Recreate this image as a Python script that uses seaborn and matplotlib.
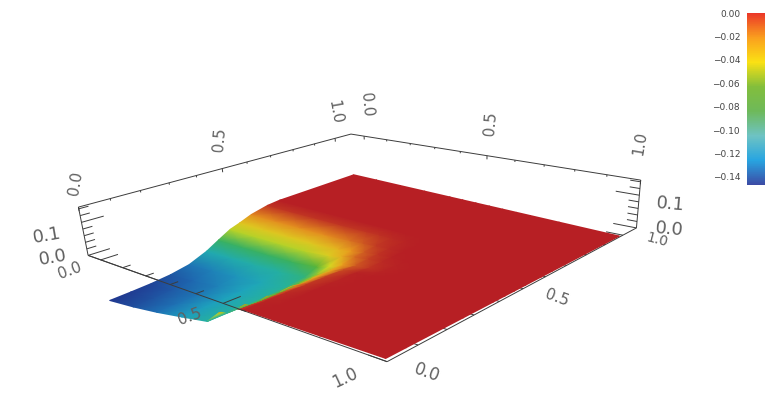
import numpy as np
import matplotlib
matplotlib.use('Agg')
import matplotlib.pyplot as plt
import seaborn as sns

# surface, rows follow y_grid, columns follow x_grid
x_grid = [0, .1, .2, .3, .4, .45, .5, .55, .6, .65, .7, .8, 1]
y_grid = [0, .07, .14, .21, .28, .35, .40, .45, .49, .54, .61, .66, 1]
z_table = [
    [-.147, -.138, -.125, -.108, -.090, -.045, -.010, 0, 0, 0, 0, 0, 0],
    [-.145, -.136, -.124, -.107, -.090, -.055, -.014, -.001, 0, 0, 0, 0, 0],
    [-.142, -.133, -.122, -.106, -.090, -.060, -.018, -.002, 0, 0, 0, 0, 0],
    [-.136, -.128, -.118, -.104, -.088, -.060, -.022, -.004, 0, 0, 0, 0, 0],
    [-.124, -.118, -.111, -.101, -.085, -.058, -.025, -.005, -.001, 0, 0, 0, 0],
    [-.098, -.096, -.093, -.090, -.078, -.052, -.025, -.007, -.001, 0, 0, 0, 0],
    [-.072, -.072, -.072, -.071, -.060, -.042, -.022, -.010, -.004, -.001, 0, 0, 0],
    [-.047, -.047, -.047, -.047, -.037, -.026, -.013, -.006, -.002, -.001, 0, 0, 0],
    [-.035, -.035, -.035, -.035, -.028, -.020, -.010, -.004, -.001, 0, 0, 0, 0],
    [-.018, -.018, -.018, -.018, -.014, -.010, -.005, -.002, 0, 0, 0, 0, 0],
    [-.004, -.004, -.004, -.004, -.004, -.003, -.002, -.001, 0, 0, 0, 0, 0],
    [0, 0, 0, 0, 0, 0, 0, 0, 0, 0, 0, 0, 0],
    [0, 0, 0, 0, 0, 0, 0, 0, 0, 0, 0, 0, 0],
]

surface_colors = ['#21378f', '#1e6eb4', '#1ea5be', '#28b496', '#46af3c', '#d7dc23', '#eba01e', '#b71f24']
bar_colors = ['#3c4ba5', '#28a5e1', '#6ec3c3', '#6eb95a', '#82be3c', '#fae114', '#faa01e', '#eb3728']
bar_ticks = [0.0, -0.02, -0.04, -0.06, -0.08, -0.10, -0.12, -0.14]
z_min = -0.147
grey = '#606060'


def fit_proj(world, pixel):
    # plain DLT least squares, world (x, y, z) to pixel
    rows, rhs = [], []
    for (x, y, z), (u, v) in zip(world, pixel):
        rows.append([x, y, z, 1, 0, 0, 0, 0, -u * x, -u * y, -u * z])
        rows.append([0, 0, 0, 0, x, y, z, 1, -v * x, -v * y, -v * z])
        rhs += [u, v]
    m = np.linalg.lstsq(np.array(rows), np.array(rhs), rcond=None)[0]
    return np.append(m, 1).reshape(3, 4)


def project(m, x, y, z):
    x, y, z = np.broadcast_arrays(x, y, z)
    w = m[2, 0] * x + m[2, 1] * y + m[2, 2] * z + m[2, 3]
    return ((m[0, 0] * x + m[0, 1] * y + m[0, 2] * z + m[0, 3]) / w,
            (m[1, 0] * x + m[1, 1] * y + m[1, 2] * z + m[1, 3]) / w)


bx0, by1, zt = -0.06, 1.08, 0.145
box = fit_proj(
    [(bx0, 0, 0), (1, 0, 0), (1, by1, 0), (bx0, by1, 0), (bx0, 0, zt), (1, by1, zt), (bx0, by1, zt),
     (0, 0, 0), (.5, 0, 0), (1, .5, 0), (1, 1, 0), (1, by1, .1)],
    [(86, 253), (385, 365), (638, 226), (352, 177), (78, 208), (640, 182), (352, 132),
     (102, 258), (227, 305), (522, 288), (623, 233), (639, 195)])
srf = fit_proj(
    [(0, 0, -.14), (1, 0, 0), (1, 1, 0), (0, 1, 0), (0, 0, 0), (.5, 0, 0), (1, 1, .1), (0, 1, .1), (.5, 1, 0)],
    [(108, 294), (384, 365), (614, 234), (349, 180), (102, 258), (232, 308), (615, 205), (349, 152), (488, 205)])

sns.set_theme(style='white')
plt.rcParams['font.family'] = ['DejaVu Sans']

fig = plt.figure(figsize=(7.72, 4.07), dpi=100)
ax = fig.add_axes([0, 0, 1, 1])
ax.set_xlim(0, 772)
ax.set_ylim(407, 0)
ax.axis('off')


def line(xs, ys, zs, lw=0.7, zorder=1):
    px, py = project(box, xs, ys, zs)
    ax.plot(px, py, color='#3c3c3c', lw=lw, zorder=zorder, solid_capstyle='butt')


# back and side edges of the box
line([bx0, bx0, 1], [0, by1, by1], [zt, zt, zt])
line([bx0, bx0], [0, 0], [0, zt])
line([1, 1], [by1, by1], [0, zt])
line([1, 1], [0, by1], [0, 0])
line([bx0, 1], [0, 0], [0, 0])
line([bx0, .58], [0, 0], [0, 0], zorder=4)

# surface
xx, yy = np.meshgrid(x_grid, y_grid)
zz = np.array(z_table)
sx, sy = project(srf, xx, yy, zz)
cmap_surface = sns.blend_palette(surface_colors, as_cmap=True)
ax.pcolormesh(sx, sy, zz, shading='gouraud', cmap=cmap_surface, vmin=z_min, vmax=0, zorder=3)

# ticks
for i in range(11):
    t = i / 10
    long_tick = i % 5 == 0
    if t <= .5:
        line([t, t], [0, .055 if long_tick else .025], [0, 0], zorder=5)
    line([t, t], [by1, by1], [zt, zt - (.012 if long_tick else .006)])
    line([bx0, bx0], [t, t], [zt, zt - (.012 if long_tick else .006)])
    line([1, 1 - (.05 if long_tick else .025)], [t, t], [0, 0], zorder=2)
for i in range(0, 15, 2):
    z = i / 100
    ln = .07 if i % 10 == 0 else .03
    line([bx0, bx0], [0, ln], [z, z])
    line([1, 1 - ln], [by1, by1], [z, z])

# axis labels, stand where the picture has them
labels = [
    ('0.0', 70, 271, 20, 11), ('0.5', 190, 317, 20, 11), ('1.0', 345, 378, 25, 12),
    ('0.0', 427, 373, -20, 12), ('0.5', 557, 298, -20, 11), ('1.0', 657, 240, -15, 10),
    ('0.0', 367, 105, -85, 11), ('0.5', 491, 124, 85, 11), ('1.0', 640, 143, 80, 11),
    ('1.0', 335, 112, -80, 11), ('0.5', 220, 140, 85, 11), ('0.0', 76, 183, 80, 11),
    ('0.1', 47, 236, 10, 13), ('0.0', 53, 258, 10, 13), ('0.1', 670, 204, -5, 13), ('0.0', 669, 229, -5, 13),
]
for s, px, py, rot, size in labels:
    ax.text(px, py, s, color=grey, fontsize=size, rotation=rot, ha='center', va='center',
            rotation_mode='anchor', zorder=6)

# colour bar
cax = fig.add_axes([747 / 772, 1 - 185 / 407, 18 / 772, 172 / 407])
cmap_bar = sns.blend_palette(bar_colors, as_cmap=True)
sm = plt.cm.ScalarMappable(norm=plt.Normalize(z_min, 0), cmap=cmap_bar)
cb = fig.colorbar(sm, cax=cax)
cb.outline.set_visible(False)
cax.yaxis.set_ticks_position('left')
cax.yaxis.set_label_position('left')
cb.set_ticks(bar_ticks, labels=['0.00', '\u22120.02', '\u22120.04', '\u22120.06', '\u22120.08',
                                '\u22120.10', '\u22120.12', '\u22120.14'])
cax.set_yticks(np.arange(-0.145, 0, 0.005), minor=True)
cax.tick_params(axis='y', which='major', direction='in', length=3, width=0.6, color='#222222',
                labelsize=6.5, labelcolor='#444444', pad=5)
cax.tick_params(axis='y', which='minor', direction='in', length=2, width=0.5, color='#222222', left=True)

fig.savefig('out.png', dpi=100)
